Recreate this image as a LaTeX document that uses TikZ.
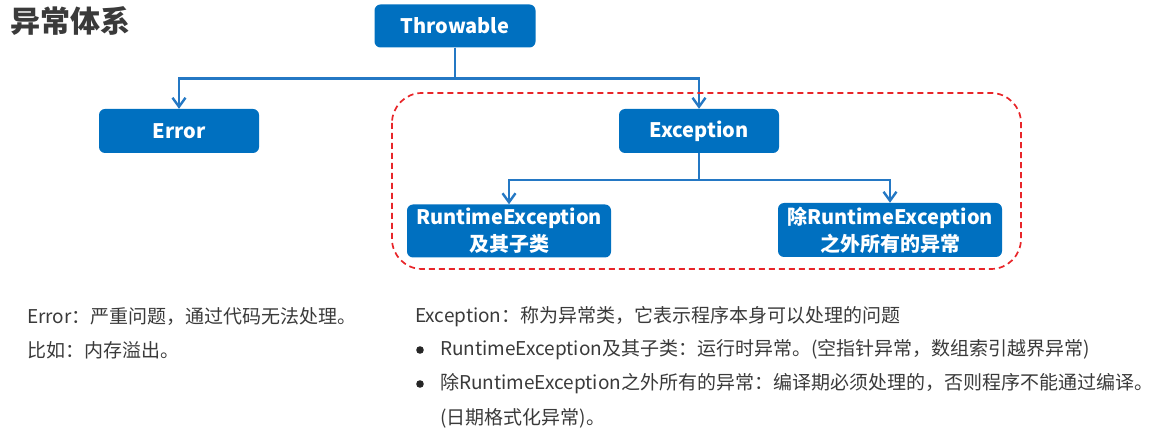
\documentclass[tikz,border=0pt]{standalone}
\usepackage{fontspec}
\setmainfont{Noto Sans CJK SC}
\usetikzlibrary{arrows.meta}

\def\exceptionframe{(392,93) rectangle (1021,269)}
\definecolor{box area}{HTML}{0070C0}
\definecolor{branch edge}{HTML}{2478C4}
\definecolor{frame edge}{HTML}{E8262A}
\definecolor{note text}{HTML}{3A3A3A}
\tikzset{classbox/.style={fill=box area, text=white, rounded corners=6pt, align=center,
        inner sep=0pt, font=\bfseries\fontsize{20}{27}\selectfont},
    branch/.style={draw=branch edge, line width=2.4pt, -{Straight Barb[length=9pt,width=13pt,line width=2.4pt]}},
    note/.style={anchor=west, inner sep=0pt, text=note text, font=\fontsize{19}{19}\selectfont}}

\begin{document}
\begin{tikzpicture}[x=1pt,y=-1pt]
     \useasboundingbox (0,0) rectangle (1153,443);
     \node[anchor=west, inner sep=0pt, text=note text, font=\bfseries\fontsize{30}{30}\selectfont] (title) at (10,21) {异常体系};
     \node[classbox, minimum width=161pt, minimum height=43pt] (throwable) at (455,26) {Throwable};
     \node[classbox, minimum width=160pt, minimum height=44pt] (error) at (179,131) {Error};
     \node[classbox, minimum width=160pt, minimum height=44pt] (exception) at (699,131) {Exception};
     \node[classbox, minimum width=204pt, minimum height=53pt] (runtime) at (509,231) {RuntimeException\\及其子类};
     \node[classbox, minimum width=224pt, minimum height=54pt] (checked) at (890,230) {除RuntimeException\\之外所有的异常};
     \draw[branch] (throwable.south) -- ++(0,31) -| (error.north);
     \draw[branch] (throwable.south) -- ++(0,31) -| (exception.north);
     \draw[branch] (exception.south) -- ++(0,27) -| (runtime.north);
     \draw[branch] (exception.south) -- ++(0,27) -| (checked.north);
     \draw[frame edge, line width=1.7pt, dash pattern=on 6pt off 4pt, rounded corners=30pt] \exceptionframe;
%     notes below the tree
     \node[note] (errnote) at (27,317) {Error：严重问题，通过代码无法处理。};
     \node[note] (errcase) at (27,350) {比如：内存溢出。};
     \node[note] (excnote) at (415,317) {Exception：称为异常类，它表示程序本身可以处理的问题};
     \fill[black!85] (420,350) circle (3.8);
     \node[note] (runnote) at (440,350) {RuntimeException及其子类：运行时异常。(空指针异常，数组索引越界异常)};
     \fill[black!85] (420,384) circle (3.8);
     \node[note] (checknote) at (440,384) {除RuntimeException之外所有的异常：编译期必须处理的，否则程序不能通过编译。};
     \node[note] (checkcase) at (440,418) {(日期格式化异常)。};
 \end{tikzpicture}
\end{document}
